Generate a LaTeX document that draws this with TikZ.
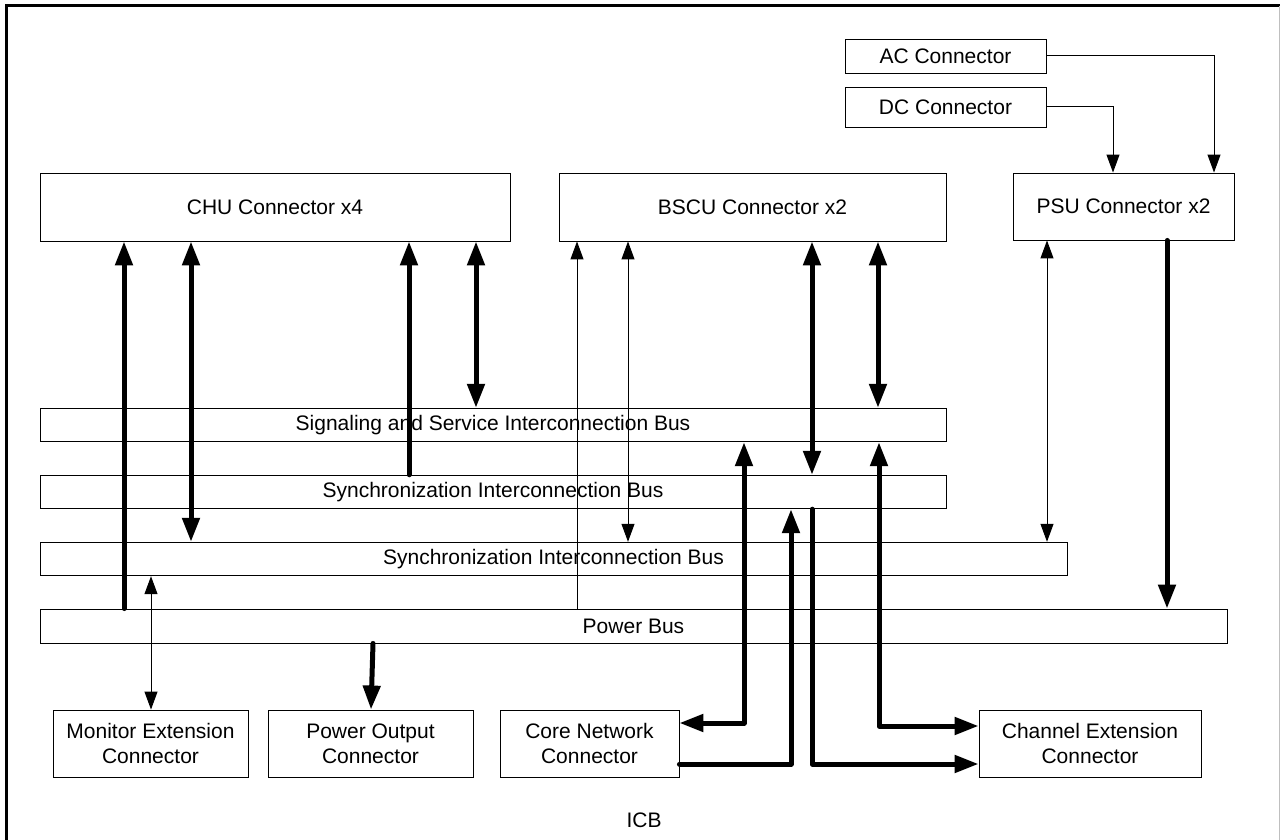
\documentclass[tikz,border=0pt]{standalone}
\usepackage{fontspec}
\setmainfont{Liberation Sans}
\usetikzlibrary{arrows.meta}
\tikzset{
  box/.style={draw, line width=0.9pt, inner sep=0pt, align=center, font=\fontsize{21}{25}\selectfont},
  tk/.style={line width=5pt, line join=round, line cap=round},
  tn/.style={line width=1pt},
  tkE/.style={tk, -{Triangle[length=24pt,width=17pt]}},
  tkB/.style={tk, {Triangle[length=24pt,width=17pt]}-{Triangle[length=24pt,width=17pt]}},
  tnE/.style={tn, -{Triangle[length=18pt,width=13pt]}},
  tnB/.style={tn, {Triangle[length=18pt,width=13pt]}-{Triangle[length=18pt,width=13pt]}},
}
\begin{document}
\begin{tikzpicture}[x=1pt,y=-1pt]
\useasboundingbox (0,0) rectangle (1280,840);
\fill[white] (0,0) rectangle (1280,840);
% frame
\draw[line width=3pt] (6.5,840) -- (6.5,6) -- (1280,6);
\draw[black!25, line width=1pt] (1279.5,6) -- (1279.5,840);

% boxes
\node[box, minimum width=201pt, minimum height=34pt] (ac) at (945.5,56) {AC Connector};
\node[box, minimum width=201pt, minimum height=40pt] (dc) at (945.5,107) {DC Connector};
\node[box, minimum width=221pt, minimum height=67pt] (psu) at (1123.5,206.5) {PSU Connector x2};
\node[box, minimum width=470pt, minimum height=68pt] (chu) at (275,207) {CHU Connector x4};
\node[box, minimum width=387pt, minimum height=68pt] (bscu) at (752.5,207) {BSCU Connector x2};

\node[box, minimum width=906pt, minimum height=33.5pt] (sig) at (493,425) {Signaling and Service Interconnection Bus};
\node[box, minimum width=906pt, minimum height=33.5pt] (sync1) at (493,492) {Synchronization Interconnection Bus};
\node[box, minimum width=1027pt, minimum height=33.5pt] (sync2) at (553.5,559) {Synchronization Interconnection Bus};
\node[box, minimum width=1187pt, minimum height=34pt] (pwr) at (633.5,626) {Power Bus};

\node[box, minimum width=195pt, minimum height=67pt] (mon) at (150.5,743.5) {Monitor Extension\\Connector};
\node[box, minimum width=205pt, minimum height=67pt] (pout) at (370.5,743.5) {Power Output\\Connector};
\node[box, minimum width=179pt, minimum height=67pt] (core) at (589.5,743.5) {Core Network\\Connector};
\node[box, minimum width=222pt, minimum height=67pt] (chan) at (1090,743.5) {Channel Extension\\Connector};

\node[font=\fontsize{21}{25}\selectfont, inner sep=0pt] (icb) at (644,820) {ICB};

% AC / DC to PSU
\draw[tnE] (ac.east) -- (1214,0 |- ac.east) -- (1214,0 |- psu.north);
\draw[tnE] (dc.east) -- (1113,0 |- dc.east) -- (1113,0 |- psu.north);

% CHU
\draw[tkE] (124,0 |- pwr.north) -- (124,0 |- chu.south);
\draw[tkB] (191,0 |- chu.south) -- (191,0 |- sync2.north);
\draw[tkE] (409,0 |- sync1.north) -- (409,0 |- chu.south);
\draw[tkB] (476,0 |- chu.south) -- (476,0 |- sig.north);

% BSCU
\draw[tnE] (577,0 |- pwr.north) -- (577,0 |- bscu.south);
\draw[tnB] (628,0 |- bscu.south) -- (628,0 |- sync2.north);
\draw[tkB] (812,0 |- bscu.south) -- (812,0 |- sync1.north);
\draw[tkB] (878,0 |- bscu.south) -- (878,0 |- sig.north);

% PSU
\draw[tnB] (1047,0 |- psu.south) -- (1047,0 |- sync2.north);
\draw[tkE] (1167,0 |- psu.south) -- (1167,0 |- pwr.north);

% buses to bottom connectors
\draw[tnB] (151,0 |- sync2.south) -- (151,0 |- mon.north);
\draw[tkE] (373,0 |- pwr.south) -- (371,0 |- pout.north);
\draw[tkB] (744,0 |- sig.south) -- (744,723) -- (core.east |- 0,723);
\draw[tkB] (879,0 |- sig.south) -- (879,726) -- (chan.west |- 0,726);
\draw[tkE] (core.east |- 0,764) -- (791,764) -- (791,0 |- sync1.south);
\draw[tkE] (812,0 |- sync1.south) -- (812,764) -- (chan.west |- 0,764);
\end{tikzpicture}
\end{document}
